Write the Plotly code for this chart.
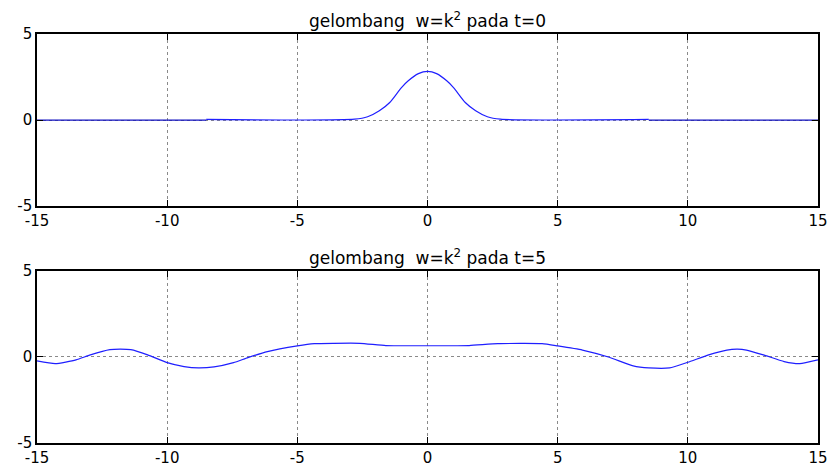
import plotly.graph_objects as go
from plotly.subplots import make_subplots

# ---- data ----
titles = ["gelombang&nbsp; w=k<sup>2</sup> pada t=0", "gelombang&nbsp; w=k<sup>2</sup> pada t=5"]
x_ticks = [-15, -10, -5, 0, 5, 10, 15]
y_ticks = [-5, 0, 5]

# t = 0 : flat parts outside the computed window
t0_left_x = [-15, -8.5]
t0_left_y = [0, 0]
t0_right_x = [8.5, 15]
t0_right_y = [0, 0]
# t = 0 : wave packet
t0_x = [-8.5, -2.8, -2.3, -1.85, -1.45, -1.0, -0.75, -0.35, 0.0,
        0.35, 0.75, 1.0, 1.45, 1.85, 2.3, 2.8, 8.5]
t0_y = [0.04, 0.05, 0.19, 0.54, 1.02, 1.89, 2.27, 2.70, 2.83,
        2.70, 2.27, 1.89, 1.02, 0.54, 0.19, 0.05, 0.04]

# t = 5
t5_x = [-15, -14.3, -13.5, -12.95, -12.2, -11.8, -11.4, -10.75, -10, -9.35, -8.8, -8.2,
        -7.45, -6.9, -6.15, -5, -4.35, -3.6, -2.6, -1.6, -0.5, 0.5, 1.6, 2.7, 4.4, 5,
        5.95, 6.98, 7.9, 8.5, 9.3, 10, 10.8, 11.5, 11.9, 12.25, 12.9, 13.7, 14.3, 15]
t5_y = [-0.23, -0.39, -0.17, 0.12, 0.42, 0.45, 0.42, 0.12, -0.33, -0.56, -0.64, -0.58,
        -0.33, -0.04, 0.31, 0.64, 0.77, 0.79, 0.79, 0.66, 0.65, 0.65, 0.66, 0.77, 0.77, 0.64,
        0.40, -0.02, -0.52, -0.64, -0.64, -0.31, 0.12, 0.40, 0.45, 0.40, 0.12, -0.27, -0.39, -0.17]

FONT = "DejaVu Sans"
BLUE = "#1f1fff"

fig = make_subplots(rows=2, cols=1, vertical_spacing=0.1582)

fig.add_trace(go.Scatter(x=t0_left_x, y=t0_left_y, mode="lines",
                         line=dict(color="#1010c0", width=1.3)), row=1, col=1)
fig.add_trace(go.Scatter(x=t0_right_x, y=t0_right_y, mode="lines",
                         line=dict(color="#1010c0", width=1.3)), row=1, col=1)
fig.add_trace(go.Scatter(x=t0_x, y=t0_y, mode="lines", line_shape="spline",
                         line=dict(color=BLUE, width=1.2, smoothing=0.7)), row=1, col=1)
fig.add_trace(go.Scatter(x=t5_x, y=t5_y, mode="lines", line_shape="spline",
                         line=dict(color=BLUE, width=1.2, smoothing=0.5)), row=2, col=1)

for r in (1, 2):
    fig.update_xaxes(range=[-15, 15], tickvals=x_ticks, ticktext=[str(v) for v in x_ticks],
                     showgrid=True, gridcolor="#8a8a8a", griddash="dot", gridwidth=1,
                     showline=True, linecolor="black", linewidth=1.6, mirror="ticks",
                     ticks="inside", ticklen=6, tickcolor="black", automargin=False,
                     zeroline=False, tickfont=dict(family=FONT, size=15, color="black"),
                     row=r, col=1)
    fig.update_yaxes(range=[-5, 5], tickvals=y_ticks, ticktext=[str(v) for v in y_ticks],
                     showgrid=True, gridcolor="#8a8a8a", griddash="dot", gridwidth=1,
                     showline=True, linecolor="black", linewidth=1.6, mirror="ticks",
                     ticks="inside", ticklen=6, tickcolor="black", automargin=False,
                     zeroline=False, tickfont=dict(family=FONT, size=15, color="black"),
                     row=r, col=1)

fig.layout.yaxis.domain = [0.5791, 1.0]
fig.layout.yaxis2.domain = [0.0, 0.4209]

for i, (t, ydom) in enumerate(zip(titles, [1.0, 0.4209])):
    fig.add_annotation(text=t, x=0.5, xref="paper", y=ydom, yref="paper",
                       xanchor="center", yanchor="bottom", yshift=1, showarrow=False,
                       font=dict(family=FONT, size=17, color="black"))

fig.update_layout(width=833, height=468, showlegend=False,
                  margin=dict(l=37, r=15, t=34, b=25, autoexpand=False),
                  paper_bgcolor="white", plot_bgcolor="white")

fig.write_html("out.html")
